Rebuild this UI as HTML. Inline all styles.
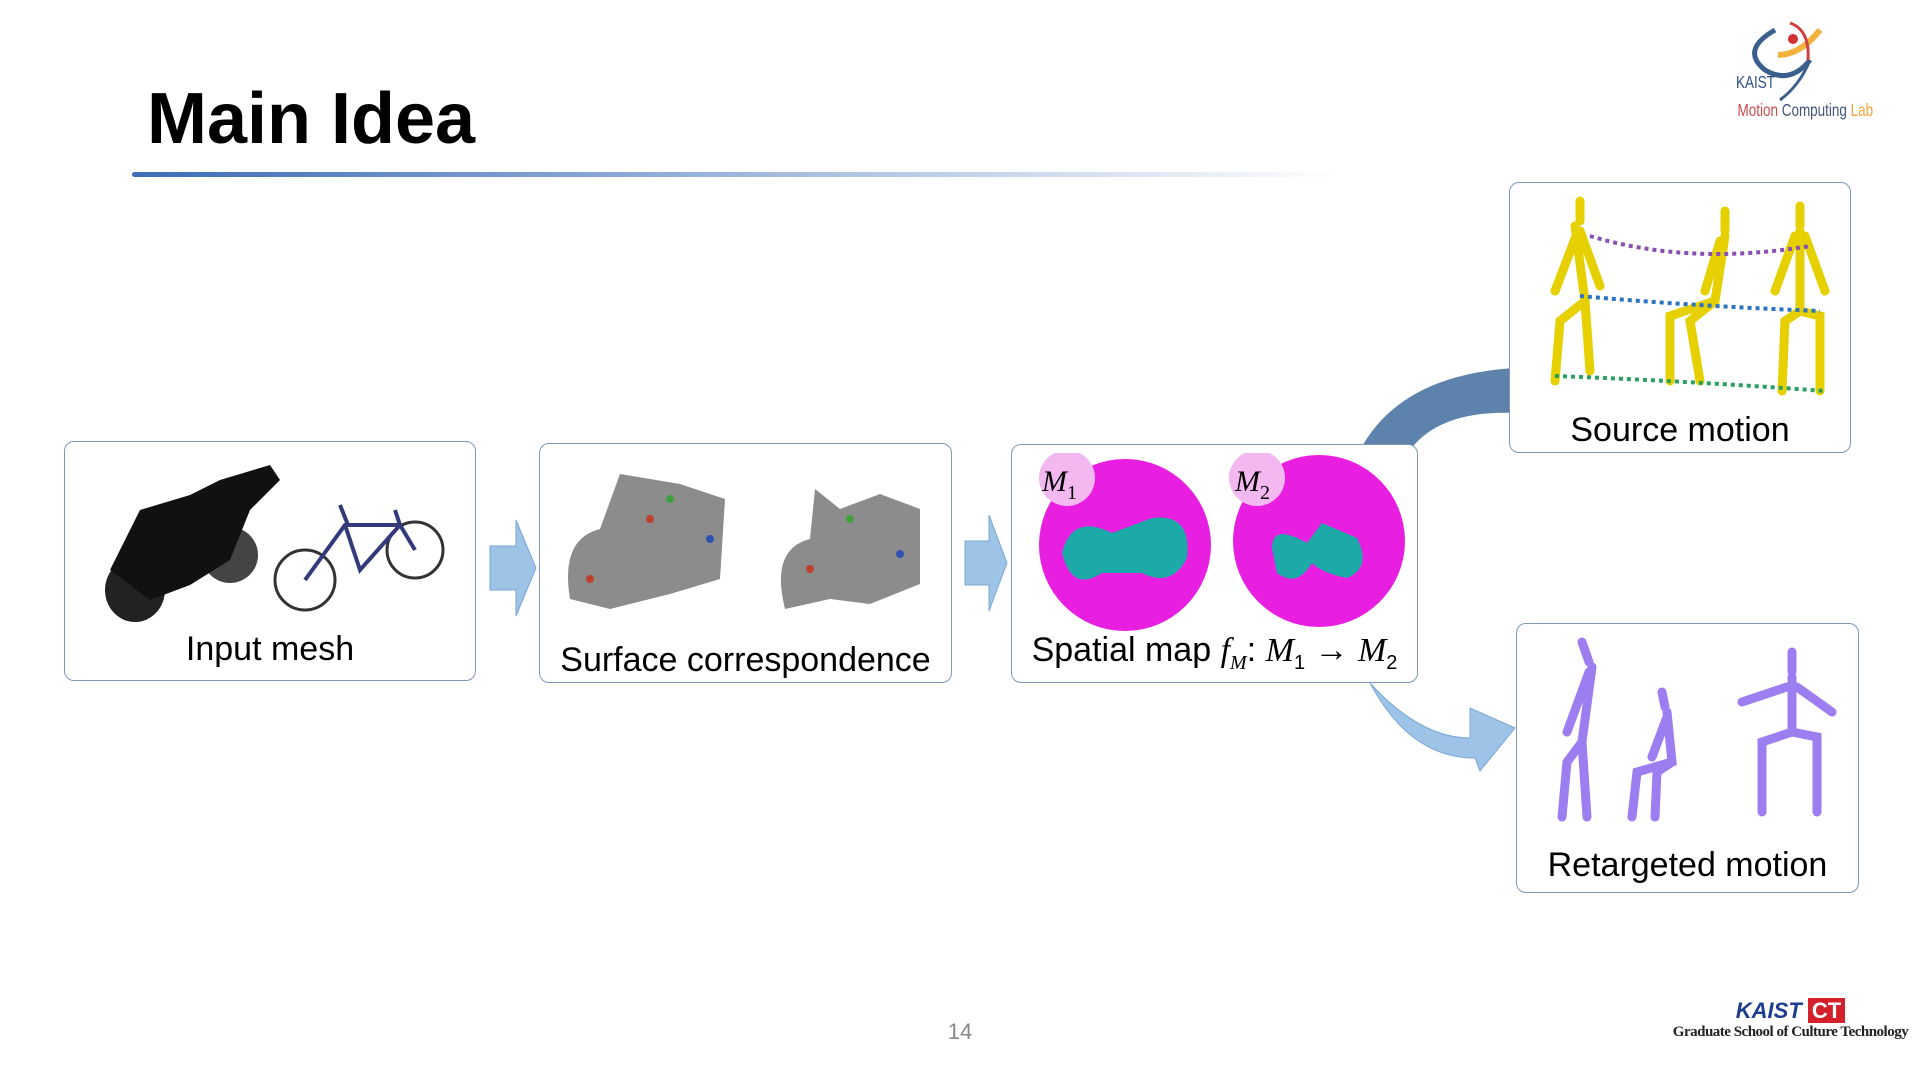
<!DOCTYPE html>
<html><head><meta charset="utf-8"><style>
body{margin:0;width:1920px;height:1080px;background:#fff;position:relative;overflow:hidden;font-family:"Liberation Sans",sans-serif}
.abs{position:absolute}
.box{position:absolute;border:1.5px solid #7f97b8;border-radius:10px;background:#fff}
.lbl{position:absolute;left:0;right:0;text-align:center;font-size:34px;color:#000}
</style></head><body>
<div class="abs" style="left:147px;top:78px;font-size:72px;font-weight:bold;color:#000">Main Idea</div>
<div class="abs" style="left:132px;top:172px;width:1210px;height:5px;border-radius:3px;background:linear-gradient(90deg,#3d6bb5,#8aa8d6 40%,rgba(255,255,255,0))"></div>

<svg class="abs" style="left:1730px;top:15px" width="180" height="110">
<path d="M45 15 Q10 35 35 55 Q60 70 80 45" stroke="#3b5f8c" stroke-width="5" fill="none"/>
<path d="M80 45 Q70 70 50 85" stroke="#3b5f8c" stroke-width="3" fill="none"/>
<path d="M48 40 Q70 40 90 15" stroke="#f3b23b" stroke-width="6" fill="none"/>
<path d="M60 8 Q80 15 78 45" stroke="#d04040" stroke-width="3" fill="none"/>
<circle cx="63" cy="24" r="5" fill="#d03030"/>
<text x="8" y="73" font-size="18" fill="#2f4f8a" transform="scale(0.75,1)">KAIST</text>
<text x="10" y="101" font-size="18" transform="scale(0.75,1)"><tspan fill="#c94b4b">Motion</tspan><tspan fill="#45567a"> Computing</tspan><tspan fill="#f0a63a"> Lab</tspan></text>
</svg>

<div class="box" style="left:64px;top:441px;width:410px;height:238px">
<svg class="abs" style="left:15px;top:8px" width="390" height="175">
<ellipse cx="55" cy="140" rx="30" ry="32" fill="#222"/><ellipse cx="150" cy="105" rx="28" ry="28" fill="#444"/>
<path d="M30 120 L60 60 L110 45 L140 30 L190 15 L200 30 L170 60 L150 110 L110 135 L70 150Z" fill="#111"/>
<ellipse cx="225" cy="130" rx="30" ry="30" fill="none" stroke="#333" stroke-width="3"/>
<ellipse cx="335" cy="100" rx="28" ry="28" fill="none" stroke="#333" stroke-width="3"/>
<path d="M225 130 L265 75 L320 75 L335 100 M265 75 L280 120 L320 75 M260 55 L268 75 M315 60 L320 75" stroke="#333a7a" stroke-width="4" fill="none"/>
</svg>
<div class="lbl" style="top:188px">Input mesh</div></div>

<svg class="abs" style="left:488px;top:518px" width="50" height="100"><path d="M2 28 H28 V2 L48 50 L28 98 V72 H2Z" fill="#9dc3e6" stroke="#7aa7d6"/></svg>

<div class="box" style="left:539px;top:443px;width:411px;height:238px">
<svg class="abs" style="left:10px;top:15px" width="390" height="170">
<path d="M20 140 Q10 80 50 70 L70 15 L130 25 L175 40 L170 120 L120 135 L60 150Z" fill="#8c8c8c"/>
<path d="M235 150 Q220 90 260 80 L265 30 L290 50 L330 35 L370 50 L370 125 L320 145 L280 140Z" fill="#8c8c8c"/>
<g fill="#c04030"><circle cx="40" cy="120" r="4"/><circle cx="260" cy="110" r="4"/><circle cx="100" cy="60" r="4"/></g>
<g fill="#3050b0"><circle cx="160" cy="80" r="4"/><circle cx="350" cy="95" r="4"/></g>
<g fill="#40a040"><circle cx="120" cy="40" r="4"/><circle cx="300" cy="60" r="4"/></g>
</svg>
<div class="lbl" style="top:197px">Surface correspondence</div></div>

<svg class="abs" style="left:963px;top:513px" width="46" height="100"><path d="M2 28 H26 V2 L44 50 L26 98 V72 H2Z" fill="#9dc3e6" stroke="#7aa7d6"/></svg>

<svg class="abs" style="left:1360px;top:365px" width="160" height="85"><path d="M0 85 Q40 10 155 3 L155 48 Q80 45 50 85Z" fill="#5d83ad"/></svg>

<div class="box" style="left:1011px;top:444px;width:405px;height:237px">
<svg class="abs" style="left:10px;top:8px" width="390" height="180">
<circle cx="103" cy="92" r="86" fill="#e81ee0"/><circle cx="297" cy="88" r="86" fill="#e81ee0"/>
<path d="M40 100 Q50 60 90 80 L130 65 Q170 60 165 105 Q150 135 120 120 L80 120 Q50 140 40 100Z" fill="#1ca9a8"/>
<path d="M250 95 Q250 70 285 90 L300 70 L335 85 Q350 115 325 125 Q300 120 290 110 Q275 135 255 120Z" fill="#1ca9a8"/>
<circle cx="45" cy="25" r="28" fill="#f3b8f0"/><circle cx="235" cy="25" r="28" fill="#f3b8f0"/>
<text x="20" y="38" font-size="30" font-style="italic" font-family="Liberation Serif">M<tspan font-size="20" dy="8" font-style="normal">1</tspan></text>
<text x="213" y="38" font-size="30" font-style="italic" font-family="Liberation Serif">M<tspan font-size="20" dy="8" font-style="normal">2</tspan></text>
</svg>
<div class="lbl" style="top:186px;font-size:34px;white-space:nowrap">Spatial map <i style="font-family:'Liberation Serif'">f<sub style="font-size:20px">M</sub></i>: <i style="font-family:'Liberation Serif'">M</i><sub style="font-size:20px">1</sub> → <i style="font-family:'Liberation Serif'">M</i><sub style="font-size:20px">2</sub></div></div>

<svg class="abs" style="left:1370px;top:683px" width="150" height="90"><path d="M0 0 Q50 55 100 55 L100 25 L145 45 L110 88 L105 75 Q40 75 0 0Z" fill="#9dc3e6" stroke="#7aa7d6"/></svg>

<div class="box" style="left:1509px;top:182px;width:340px;height:269px">
<svg class="abs" style="left:10px;top:8px" width="320" height="220">
<g stroke="#e6d000" stroke-width="9" stroke-linecap="round" fill="none">
<path d="M60 10 L60 30 M55 35 L65 110 L40 130 L35 190 M65 110 L70 180 M58 40 L35 100 M60 40 L80 95"/>
<path d="M205 20 L205 40 M205 45 L195 110 L150 125 L150 190 M195 110 L170 130 L180 190 M200 50 L185 100"/>
<path d="M280 15 L280 35 M280 40 L280 120 L265 130 L262 200 M280 120 L300 125 L300 200 M275 45 L255 100 M285 45 L305 100"/>
</g>
<path d="M70 45 Q170 75 290 55" stroke="#8a4fb0" stroke-width="4" stroke-dasharray="4 4" fill="none"/>
<path d="M60 105 Q170 115 300 120" stroke="#2d74c0" stroke-width="4" stroke-dasharray="4 4" fill="none"/>
<path d="M35 185 Q170 190 305 200" stroke="#2aa060" stroke-width="4" stroke-dasharray="4 4" fill="none"/>
</svg>
<div class="lbl" style="top:228px">Source motion</div></div>

<div class="box" style="left:1516px;top:623px;width:341px;height:268px">
<svg class="abs" style="left:10px;top:8px" width="320" height="200">
<g stroke="#9d7ef0" stroke-width="9" stroke-linecap="round" fill="none">
<path d="M55 10 L62 30 M65 35 L55 110 L40 130 L35 185 M55 110 L60 185 M62 40 L40 100"/>
<path d="M135 60 L138 75 M140 80 L145 130 L110 140 L105 185 M145 130 L130 140 L128 185 M140 85 L125 125"/>
<path d="M265 20 L265 40 M265 45 L265 100 L235 110 L235 180 M265 100 L290 105 L290 180 M260 55 L215 70 M270 55 L305 80"/>
</g></svg>
<div class="lbl" style="top:222px">Retargeted motion</div></div>

<div class="abs" style="left:945px;top:1019px;width:30px;text-align:center;font-size:22px;color:#888">14</div>

<div class="abs" style="left:1663px;top:998px;width:255px;text-align:center">
<div style="font-size:22px;font-weight:bold;color:#1c3d8c;font-style:italic;display:inline-block">KAIST <span style="background:#d3202b;color:#fff;font-style:normal;padding:0 4px">CT</span></div>
<div style="font-size:15px;font-weight:bold;color:#222;font-family:'Liberation Serif',serif;letter-spacing:-0.5px">Graduate School of Culture Technology</div></div>
</body></html>
